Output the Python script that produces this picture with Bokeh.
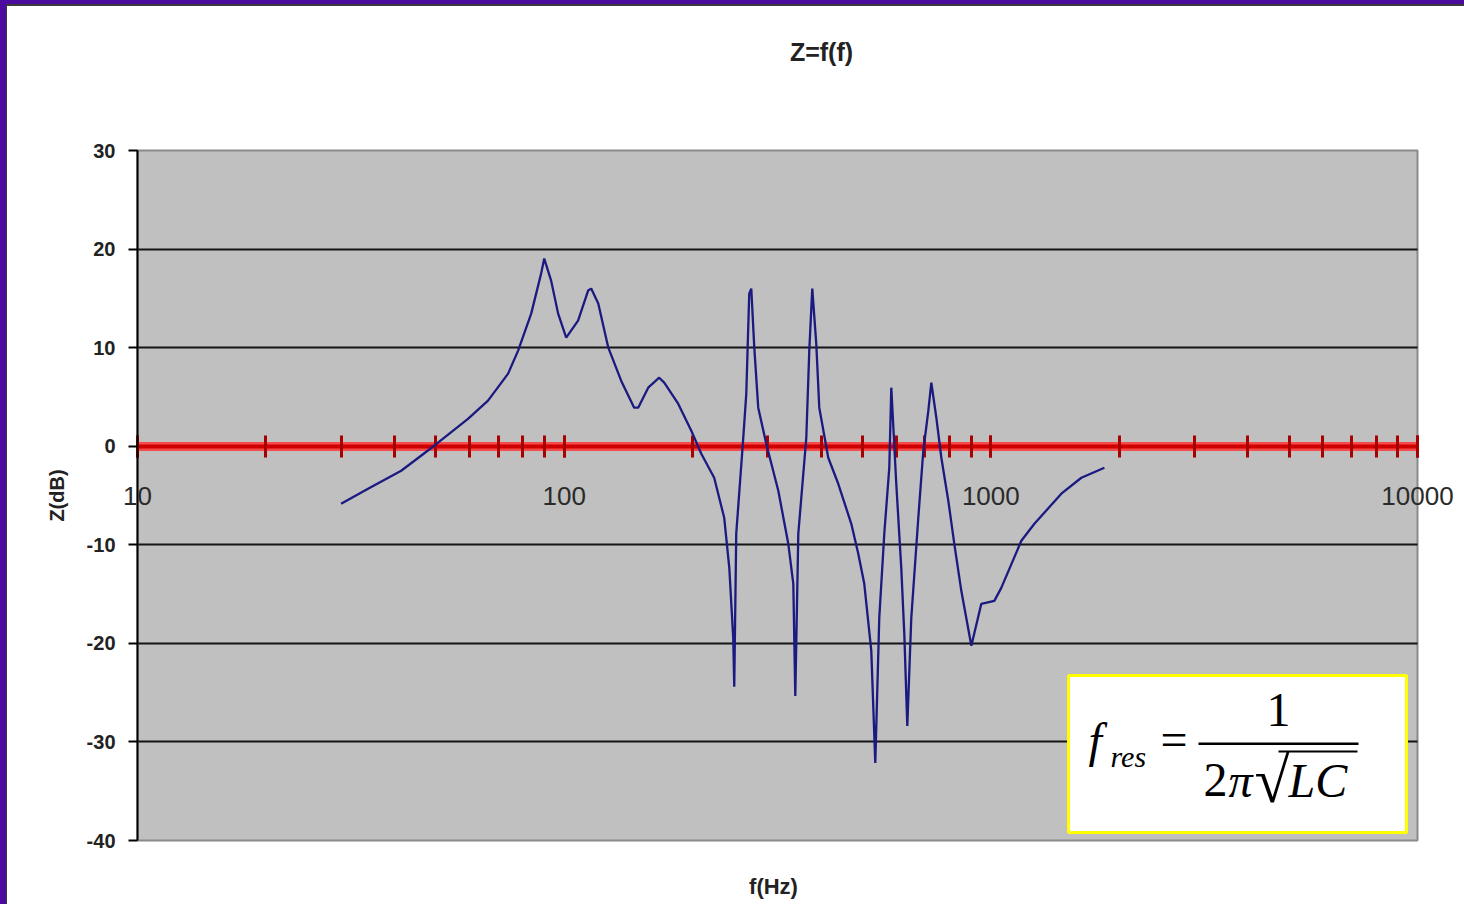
from bokeh.plotting import figure
from bokeh.models import (FixedTicker, LogTicker, NumeralTickFormatter, BoxAnnotation,
                          Label, LinearAxis, LogAxis, GlobalInlineStyleSheet, ColumnDataSource)
from bokeh.embed import file_html
from bokeh.resources import INLINE

# ---- data ----
freq_hz = [30.0, 34.7, 41.5, 49.6, 59.6, 66.3, 73.9, 78.0, 83.7, 88.3,
           89.8, 93.2, 96.8, 101.1, 107.8, 113.8, 115.7, 120.2, 126.9, 136.0,
           145.9, 149.1, 157.4, 167.0, 171.6, 185.0, 198.6, 209.6, 224.7, 237.2,
           243.8, 249.0, 250.4, 253.1, 262.9, 267.2, 271.5, 274.5, 279.0, 285.0,
           297.6, 317.6, 335.2, 344.4, 348.1, 353.8, 369.4, 375.4, 381.5, 389.8,
           396.2, 415.9, 438.9, 470.9, 489.0, 505.1, 524.6, 536.0, 547.7, 562.7,
           578.1, 584.4, 600.3, 616.7, 626.9, 637.1, 651.0, 676.1, 694.6, 713.7,
           725.3, 745.2, 765.6, 794.9, 821.1, 852.7, 900.2, 949.9, 1019, 1058,
           1179, 1265, 1463, 1630, 1846]
z_db = [-5.84, -4.31, -2.49, 0.05, 2.79, 4.62, 7.36, 9.70, 13.45, 17.51,
        19.04, 16.80, 13.45, 11.02, 12.74, 15.79, 15.99, 14.47, 10.0, 6.65,
        3.91, 3.91, 5.94, 6.95, 6.45, 4.31, 1.57, -0.76, -3.20, -7.26,
        -12.34, -19.44, -24.4, -8.88, 0.86, 5.33, 15.48, 15.99, 10.0, 3.91,
        0.25, -4.52, -9.9, -13.96, -25.33, -8.88, 0.86, 9.70, 15.99, 10.41,
        3.91, -1.17, -3.81, -7.87, -10.91, -13.96, -20.76, -32.13, -17.41, -8.88,
        -2.18, 5.94, -3.81, -12.34, -19.04, -28.38, -17.41, -7.26, -0.46, 3.60,
        6.45, 2.89, -1.17, -5.53, -9.9, -14.67, -20.25, -15.99, -15.69, -14.37,
        -9.59, -7.87, -4.82, -3.20, -2.18]
x_bounds = (10, 10000)
y_bounds = (-40, 30)
y_ticks = [-40, -30, -20, -10, 0, 10, 20, 30]
grid_ticks = [-30, -20, -10, 10, 20]
x_tick_values = [10, 100, 1000, 10000]
x_tick_labels = ["10", "100", "1000", "10000"]
title_text = "Z=f(f)"
x_label = "f(Hz)"
y_label = "Z(dB)"

# ---- layout geometry (page pixels) ----
FIG_L, FIG_T, FIG_W, FIG_H = 7, 6, 1457, 898
PX_X10, PX_X10000 = 137, 1417      # where 10 Hz and 10 kHz sit
PX_Y30, PX_YM40 = 150, 840         # where +30 dB and -40 dB sit
DEC = (PX_X10000 - PX_X10) / 3.0
UPP = 70.0 / (PX_YM40 - PX_Y30)


def px2x(px):
    return 10 ** (1 + (px - PX_X10) / DEC)


def px2y(py):
    return 30 - (py - PX_Y30) * UPP


x_range = (px2x(FIG_L), px2x(FIG_L + FIG_W))
y_range = (px2y(FIG_T + FIG_H), px2y(FIG_T))

p = figure(width=FIG_W, height=FIG_H, x_axis_type="log", x_range=x_range, y_range=y_range,
           output_backend="svg", toolbar_location=None, min_border=0,
           background_fill_color="#ffffff", border_fill_color="#ffffff", title_location=None)
p.margin = (FIG_T, 0, 0, FIG_L)
p.outline_line_color = None
p.grid.visible = False
p.stylesheets = [GlobalInlineStyleSheet(css=(
    "html { background:"
    " linear-gradient(#4c0b9e,#4c0b9e) left top / 6px 100% no-repeat,"
    " linear-gradient(#4c0b9e,#4c0b9e) left top / 100% 4px no-repeat,"
    " linear-gradient(#3a3a3a,#3a3a3a) left 4px / 100% 2px no-repeat,"
    " linear-gradient(#3a3a3a,#3a3a3a) 6px top / 1px 100% no-repeat,"
    " #ffffff; }"))]

# grey plot area
p.add_layout(BoxAnnotation(left=x_bounds[0], right=x_bounds[1], bottom=y_bounds[0], top=y_bounds[1],
                           fill_color="#c0c0c0", fill_alpha=1.0, line_color="#8a8a8a",
                           line_width=2, line_alpha=1.0, level="image"))

# horizontal grid lines drawn as long inward ticks of an unlabeled axis
gax = LinearAxis(ticker=FixedTicker(ticks=grid_ticks), fixed_location=x_bounds[0], bounds=y_bounds,
                 axis_line_color=None, major_tick_in=int(PX_X10000 - PX_X10), major_tick_out=0,
                 major_tick_line_color="#151515", major_tick_line_width=2,
                 minor_tick_line_color=None, major_label_overrides={t: "" for t in grid_ticks})
p.add_layout(gax, "left")

# red halo of the zero axis (default x axis, no ticks)
halo = p.xaxis[0]
halo.fixed_location = 0
halo.bounds = x_bounds
halo.ticker = LogTicker(num_minor_ticks=10)
halo.axis_line_color = "#ff3434"
halo.axis_line_width = 9
halo.axis_line_alpha = 0.85
halo.major_tick_line_color = None
halo.minor_tick_line_color = None
halo.major_label_overrides = {v: "" for v in x_tick_values}

# red zero axis with ticks
xa = LogAxis(ticker=LogTicker(num_minor_ticks=10), fixed_location=0, bounds=x_bounds)
xa.major_label_overrides = {v: "" for v in x_tick_values}
xa.axis_line_color = "#cc0000"
xa.axis_line_width = 4
xa.major_tick_in = 11
xa.major_tick_out = 11
xa.major_tick_line_color = "#a80000"
xa.major_tick_line_width = 3
xa.minor_tick_in = 11
xa.minor_tick_out = 11
xa.minor_tick_line_color = "#a80000"
xa.minor_tick_line_width = 3
p.add_layout(xa, "below")

for v, t in zip(x_tick_values, x_tick_labels):
    p.add_layout(Label(x=v, y=0, text=t, text_align="center", text_baseline="middle",
                       y_offset=-50, text_font="Liberation Sans", text_font_size="26px",
                       text_color="#2a2a2a"))

ya = p.yaxis[0]
ya.fixed_location = x_bounds[0]
ya.bounds = y_bounds
ya.ticker = FixedTicker(ticks=y_ticks)
ya.formatter = NumeralTickFormatter(format="0")
ya.axis_line_color = "#000000"
ya.axis_line_width = 2
ya.major_tick_out = 9
ya.major_tick_in = 0
ya.major_tick_line_width = 2
ya.minor_tick_out = 0
ya.minor_tick_in = 0
ya.major_label_standoff = 13
ya.major_label_text_font = "Liberation Sans"
ya.major_label_text_font_size = "20px"
ya.major_label_text_font_style = "bold"
ya.major_label_text_color = "#222222"
ya.axis_label = y_label
ya.axis_label_standoff = 16
ya.axis_label_text_font = "Liberation Sans"
ya.axis_label_text_font_size = "20px"
ya.axis_label_text_font_style = "bold"
ya.axis_label_text_color = "#222222"

# title and x axis name
p.add_layout(Label(x=px2x(821), y=px2y(51), text=title_text, text_align="center",
                   text_baseline="middle", text_font="Liberation Sans", text_font_size="25px",
                   text_font_style="bold", text_color="#222222"))
p.add_layout(Label(x=px2x(773), y=px2y(886), text=x_label, text_align="center",
                   text_baseline="middle", text_font="Liberation Sans", text_font_size="22px",
                   text_font_style="bold", text_color="#222222"))

src = ColumnDataSource(data=dict(f=freq_hz, z=z_db))
p.line(x="f", y="z", source=src, line_color="#1a1a80", line_width=2.3, level="annotation")

# formula box
p.add_layout(BoxAnnotation(left=px2x(1068), right=px2x(1406), top=px2y(675), bottom=px2y(832),
                           fill_color="#ffffff", fill_alpha=1.0, line_color="#ffff00",
                           line_width=3, line_alpha=1.0))
p.add_layout(BoxAnnotation(left=px2x(1198), right=px2x(1358), top=px2y(742), bottom=px2y(744.5),
                           fill_color="#000000", fill_alpha=1.0, line_alpha=0))
p.add_layout(BoxAnnotation(left=px2x(1278), right=px2x(1357), top=px2y(750), bottom=px2y(752),
                           fill_color="#000000", fill_alpha=1.0, line_alpha=0))


def formula_label(px, py, text, size, style="normal", align="left"):
    # Bokeh's alphabetic baseline sits about 0.36 em lower than the glyph baseline we read
    py_adj = py - 0.36 * size
    p.add_layout(Label(x=px2x(px), y=px2y(py_adj), text=text, text_font="Liberation Serif",
                       text_font_size=f"{size}px", text_font_style=style, text_color="#000000",
                       text_align=align, text_baseline="alphabetic"))


formula_label(1088, 757, "f", 48, "italic")
formula_label(1110, 767, "res", 30, "italic")
formula_label(1160, 756, "=", 48)
formula_label(1278, 727, "1", 48, align="center")
formula_label(1203, 797, "2", 48)
formula_label(1228, 797, "π", 48, "italic")
formula_label(1254, 803, "√", 64)
formula_label(1288, 797, "LC", 48, "italic")

open("out.html", "w").write(file_html(p, INLINE))
